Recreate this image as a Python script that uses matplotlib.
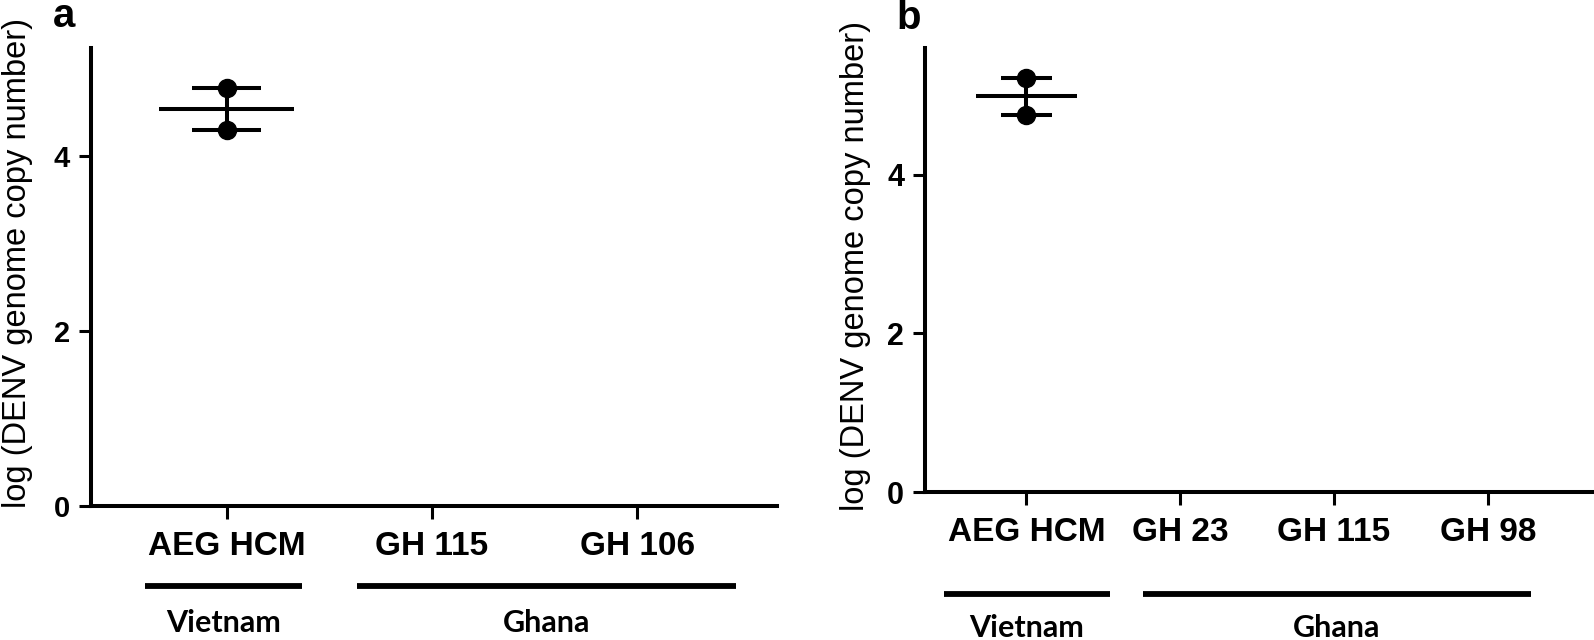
import numpy as np
import matplotlib
matplotlib.use("Agg")
import matplotlib.pyplot as plt

# values (log DENV genome copy number)
strains_a = ["AEG HCM", "GH 115", "GH 106"]
values_a = [[4.77, 4.29], [], []]

strains_b = ["AEG HCM", "GH 23", "GH 115", "GH 98"]
values_b = [[5.22, 4.76], [], [], []]

groups_a = [("Vietnam", -0.395, 0.366), ("Ghana", 0.634, 2.478)]
groups_b = [("Vietnam", -0.534, 0.541), ("Ghana", 0.756, 3.283)]

yticks = [0, 2, 4]
ylabel = "log (DENV genome copy number)"

W, H = 1594, 640
lw = 2.9
tick_font = "Liberation Sans"
group_font = "Lato"

fig = plt.figure(figsize=(W / 100, H / 100), dpi=100)


def px_axes(left, top, right, bottom):
    return fig.add_axes([left / W, 1 - bottom / H, (right - left) / W, (bottom - top) / H])


def draw_panel(ax, names, vals, groups, xlim, ylim, line_y, text_y, ylab_xy, ytick_size):
    for i, v in enumerate(vals):
        if len(v) == 0:
            continue
        v = np.array(v)
        m = v.mean()
        sem = v.std(ddof=1) / np.sqrt(len(v))
        ax.vlines(i, m - sem, m + sem, color="black", lw=lw, zorder=3)
        ax.hlines([m - sem, m + sem], i - 0.166, i + 0.166, color="black", lw=lw, zorder=3)
        ax.hlines(m, i - 0.33, i + 0.33, color="black", lw=lw, zorder=3)
        ax.plot([i] * len(v), v, "o", color="black", ms=13, zorder=4)

    ax.set_xlim(*xlim)
    ax.set_ylim(*ylim)
    ax.set_xticks(range(len(names)))
    ax.set_xticklabels(names, fontsize=24, fontweight="bold", family=tick_font)
    ax.set_yticks(yticks)
    ax.set_yticklabels([str(t) for t in yticks], fontsize=ytick_size, fontweight="bold",
                       family=tick_font)
    ax.set_ylabel(ylabel, fontsize=23.5, family=tick_font)
    ax.yaxis.set_label_coords(*ylab_xy)

    for s in ["top", "right"]:
        ax.spines[s].set_visible(False)
    for s in ["left", "bottom"]:
        ax.spines[s].set_linewidth(lw)
    ax.tick_params(axis="both", length=9, width=2.2, direction="out")
    ax.tick_params(axis="x", pad=9)
    ax.tick_params(axis="y", pad=6)

    trans = ax.get_xaxis_transform()
    for name, x0, x1 in groups:
        ax.plot([x0, x1], [line_y, line_y], color="black", lw=4.2,
                transform=trans, clip_on=False, solid_capstyle="butt")
        ax.text((x0 + x1) / 2, text_y, name, transform=trans, ha="center", va="center",
                fontsize=22, fontweight="bold", family=group_font)


ax_a = px_axes(91, 48, 777, 506)
draw_panel(ax_a, strains_a, values_a, groups_a, (-0.66, 2.68), (0, 5.23),
           -0.175, -0.255, (-0.085, 0.53), 21)

ax_b = px_axes(925, 48, 1600, 492)
draw_panel(ax_b, strains_b, values_b, groups_b, (-0.66, 3.73), (0, 5.6),
           -0.229, -0.306, (-0.080, 0.51), 22)

fig.text(64 / W, 1 - 27 / H, "a", fontsize=29, fontweight="bold", family=tick_font,
         ha="center", va="baseline")
fig.text(909 / W, 1 - 29 / H, "b", fontsize=29, fontweight="bold", family=tick_font,
         ha="center", va="baseline")

fig.savefig("out.png", dpi=100)
